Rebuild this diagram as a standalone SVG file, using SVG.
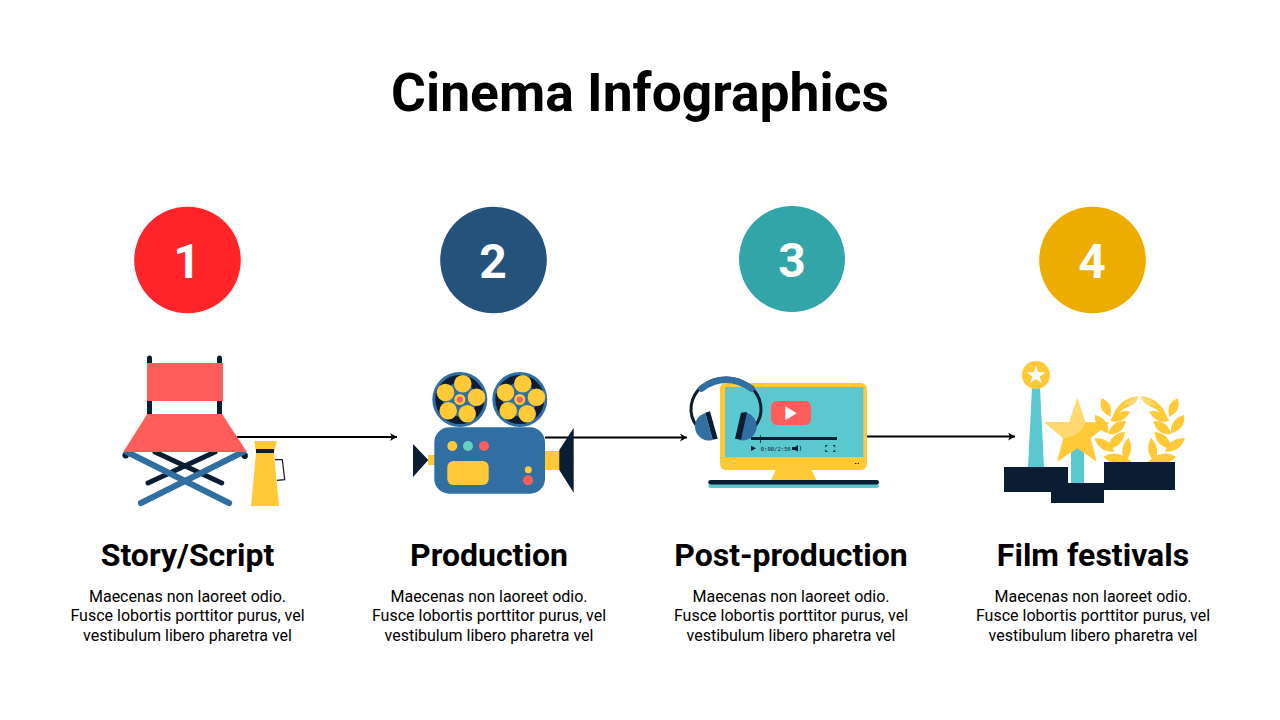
<svg xmlns="http://www.w3.org/2000/svg" width="1280" height="720" viewBox="0 0 1280 720">
<style>
text{font-family:Roboto,"Liberation Sans",sans-serif;text-anchor:middle;fill:#000}
.title{font-size:53.400px;font-weight:700}
.num{font-size:48px;font-weight:700;fill:#fff}
.head{font-size:32px;font-weight:700}
.body{font-size:16px}
.conn{stroke:#000;stroke-width:2;fill:none;marker-end:url(#arr)}
.y{fill:#ffc938}.n{fill:#0b1d33}.b{fill:#316fa3}.r{fill:#ff5c5c}.t{fill:#5bc8cf}
.ln{fill:none;stroke-linecap:round}
</style>
<defs>
<marker id="arr" markerUnits="userSpaceOnUse" markerWidth="10" markerHeight="10" refX="7" refY="4" orient="auto"><path d="M0 0L7 4L0 8L2 4Z" fill="#000"/></marker>
<g id="reel">
<circle r="27.500" class="b"/><circle r="24.500" class="n"/><circle r="17" class="b"/>
<circle cx="3" cy="-15.700" r="8.800" class="y"/><circle cx="16.700" cy="-2.300" r="8.800" class="y"/><circle cx="7.400" cy="14.300" r="8.800" class="y"/><circle cx="-11.600" cy="11.300" r="8.800" class="y"/><circle cx="-14.300" cy="-7" r="8.800" class="y"/>
<circle r="5.500" class="y"/><circle r="3" class="r"/>
</g>
<g id="wreath">
<path d="M350 192Q370 130 430 124Q425 145 400 155Q375 165 350 192Z"/>
<path d="M385 150Q405 130 430 124Q425 145 410 150Z" fill="#ffd970"/>
<path d="M320 130Q357 146 345 185Q307 168 320 130Z"/>
<path d="M345 198Q386 208 405 170Q364 160 345 198Z"/>
<path d="M300 180Q343 191 340 235Q297 223 300 180Z"/>
<path d="M340 238Q383 240 393 198Q349 196 340 238Z"/>
<path d="M298 250Q343 247 358 290Q313 293 298 250Z"/>
<path d="M338 282Q384 276 390 230Q344 236 338 282Z"/>
<path d="M400 248Q421 288 390 320Q369 280 400 248Z"/>
<path d="M325 305Q365 280 410 321H345Q335 315 325 305Z"/>
</g>
</defs>
<rect width="1280" height="720" fill="#fff"/>
<text class="title" x="640" y="111">Cinema Infographics</text>

<g id="connectors">
<path class="conn" d="M237 437H397"/>
<path class="conn" d="M545 437.500H687"/>
<path class="conn" d="M867 436.500H1015"/>
</g>

<g id="node-1">
<circle cx="187.500" cy="260" r="53.300" fill="#ff2427"/>
<text class="num" x="187" y="278">1</text>
<g id="chair">
<path d="M149.500 358V414M219.500 358V414" class="ln" stroke="#0b1d33" stroke-width="5"/>
<path d="M155 452L221.700 483M215 452L148 483" class="ln" stroke="#0b1d33" stroke-width="5"/>
<circle cx="125.700" cy="455.300" r="3.200" class="n"/><circle cx="244.700" cy="455.700" r="3.200" class="n"/>
<path d="M127 452L229 503M243 452L141 503" class="ln" stroke="#316fa3" stroke-width="6.200"/>
<rect x="147" y="363" width="76" height="38" class="r"/>
<path d="M147.300 414H222L247 452H123.300Z" class="r"/>
</g>
<g id="megaphone">
<path d="M275 459.700H282.300L284.700 479.700L276.700 480.300" fill="#fff" stroke="#0b1d33" stroke-width="1.200"/>
<path d="M254.300 441H277L274 453L279 506H251L256 453Z" class="y"/>
<rect x="256" y="449" width="18" height="4" class="n"/>
</g>
<text class="head" x="187.500" y="566">Story/Script</text>
<text class="body" x="187.500" y="601.500">Maecenas non laoreet odio.</text>
<text class="body" x="187.500" y="621">Fusce lobortis porttitor purus, vel</text>
<text class="body" x="187.500" y="641">vestibulum libero pharetra vel</text>
</g>

<g id="node-2">
<circle cx="493.500" cy="260" r="53.300" fill="#24527a"/>
<text class="num" x="493" y="278">2</text>
<g id="camera">
<use href="#reel" x="459.800" y="399.500"/><use href="#reel" x="519.800" y="399.500"/>
<rect x="428" y="455" width="8" height="10" class="y"/>
<path d="M413 444L428.300 460L413 477Z" class="n"/>
<rect x="544" y="451" width="16" height="19" class="y"/>
<path d="M559.300 450L573.700 427.700V492.700L559.300 470Z" class="n"/>
<rect x="434.300" y="427.300" width="110.700" height="66.400" rx="15" class="b"/>
<circle cx="452.300" cy="446" r="5" class="y"/><circle cx="468" cy="446" r="5" fill="#66d0c0"/><circle cx="484" cy="446" r="5" class="r"/>
<rect x="447.300" y="461" width="41.400" height="24" rx="6" class="y"/>
<circle cx="528.300" cy="469.700" r="3.500" class="y"/><circle cx="528" cy="480.300" r="5" class="r"/>
</g>
<text class="head" x="489" y="566">Production</text>
<text class="body" x="489" y="601.500">Maecenas non laoreet odio.</text>
<text class="body" x="489" y="621">Fusce lobortis porttitor purus, vel</text>
<text class="body" x="489" y="641">vestibulum libero pharetra vel</text>
</g>

<g id="node-3">
<circle cx="792" cy="259" r="53" fill="#33a5a9"/>
<text class="num" x="792" y="277">3</text>
<g id="monitor">
<path d="M775.700 470H811.700L816.700 481H770.700Z" class="y"/>
<rect x="720" y="383" width="147" height="87" rx="6" class="y"/>
<rect x="725" y="387" width="138.300" height="70" class="t"/>
<rect x="708.300" y="484" width="170.700" height="4" rx="2" class="t"/>
<rect x="708.300" y="480" width="170.700" height="4.500" rx="2.200" class="n"/>
<rect x="771" y="401" width="40" height="24" rx="6" class="r"/>
<path d="M785.300 406.300L796.700 413.300L785.300 420.300Z" fill="#fff"/>
<rect x="751" y="437" width="86" height="3" class="n"/>
<rect x="760" y="435.300" width="0.800" height="7.700" class="n"/>
<path d="M751 445.700L756 448.300L751 451Z" class="n"/>
<text x="775.800" y="451" style="font-size:5.600px;font-family:'DejaVu Sans Mono',monospace;fill:#0b1d33">0:00/2:56</text>
<path d="M792 447H795L798 445V451.500L795 450H792Z" class="n"/>
<path d="M800 445.500Q801.500 448 800 451" fill="none" stroke="#0b1d33" stroke-width=".7"/>
<path d="M827.500 445.500H825.700V447.200M833 445.500H834.800V447.200M827.500 451.500H825.700V449.800M833 451.500H834.800V449.800" fill="none" stroke="#0b1d33" stroke-width="1"/>
<rect x="855" y="463" width="1.300" height="1" class="n"/><rect x="857.700" y="463" width="1.300" height="1" class="n"/>
</g>
<g id="headphones">
<path d="M697 426.400A35 31 0 1 1 755 426.400" fill="none" stroke="#0b1d33" stroke-width="3"/>
<path d="M701.500 388.500Q726 371 751.500 388.500" fill="none" stroke="#316fa3" stroke-width="6.500" stroke-linecap="round"/>
<path d="M705.300 413A13.500 13.500 0 0 0 712.700 440Z" class="b"/>
<path d="M746 412.500A13.800 13.800 0 0 1 739 440Z" class="b"/>
<path d="M705.300 412.700L710 411.300L717.700 438.700L712.700 439.700Z" class="n"/>
<path d="M741 412.700L747 412L741 439.700L735 438.700Z" class="n"/>
</g>
<text class="head" x="791" y="566">Post-production</text>
<text class="body" x="791" y="601.500">Maecenas non laoreet odio.</text>
<text class="body" x="791" y="621">Fusce lobortis porttitor purus, vel</text>
<text class="body" x="791" y="641">vestibulum libero pharetra vel</text>
</g>

<g id="node-4">
<circle cx="1092.500" cy="260" r="53.300" fill="#edac00"/>
<text class="num" x="1092" y="278">4</text>
<g id="awards">
<path d="M1032 388H1040L1044 467H1028Z" class="t"/>
<circle cx="1036" cy="375" r="14" class="y"/>
<path d="M1036 365.500L1038.300 372.200H1045.400L1039.700 376.400L1041.800 383L1036 379L1030.200 383L1032.300 376.400L1026.600 372.200H1033.700Z" fill="#fff"/>
<rect x="1071" y="444" width="13" height="40" class="t"/>
<path d="M1077.300 398.300L1085.300 422.300H1110L1090.700 438.300L1096.700 461.700L1077.300 448.300L1057 461.700L1063.300 438.300L1044.300 422.300H1069.300Z" class="y"/>
<path d="M1077.300 398.300L1085.300 422.300H1085Q1083 435 1063.300 438.300L1044.300 422.300H1069.300Z" fill="#ffd970"/>
<g transform="translate(995 355) scale(.33333)" class="y"><use href="#wreath"/><use href="#wreath" transform="translate(868 0) scale(-1 1)"/></g>
<rect x="1004" y="467" width="64" height="25" class="n"/>
<rect x="1051" y="483" width="53" height="20" class="n"/>
<rect x="1104" y="462" width="71" height="28" class="n"/>
</g>
<text class="head" x="1093" y="566">Film festivals</text>
<text class="body" x="1093" y="601.500">Maecenas non laoreet odio.</text>
<text class="body" x="1093" y="621">Fusce lobortis porttitor purus, vel</text>
<text class="body" x="1093" y="641">vestibulum libero pharetra vel</text>
</g>
</svg>
